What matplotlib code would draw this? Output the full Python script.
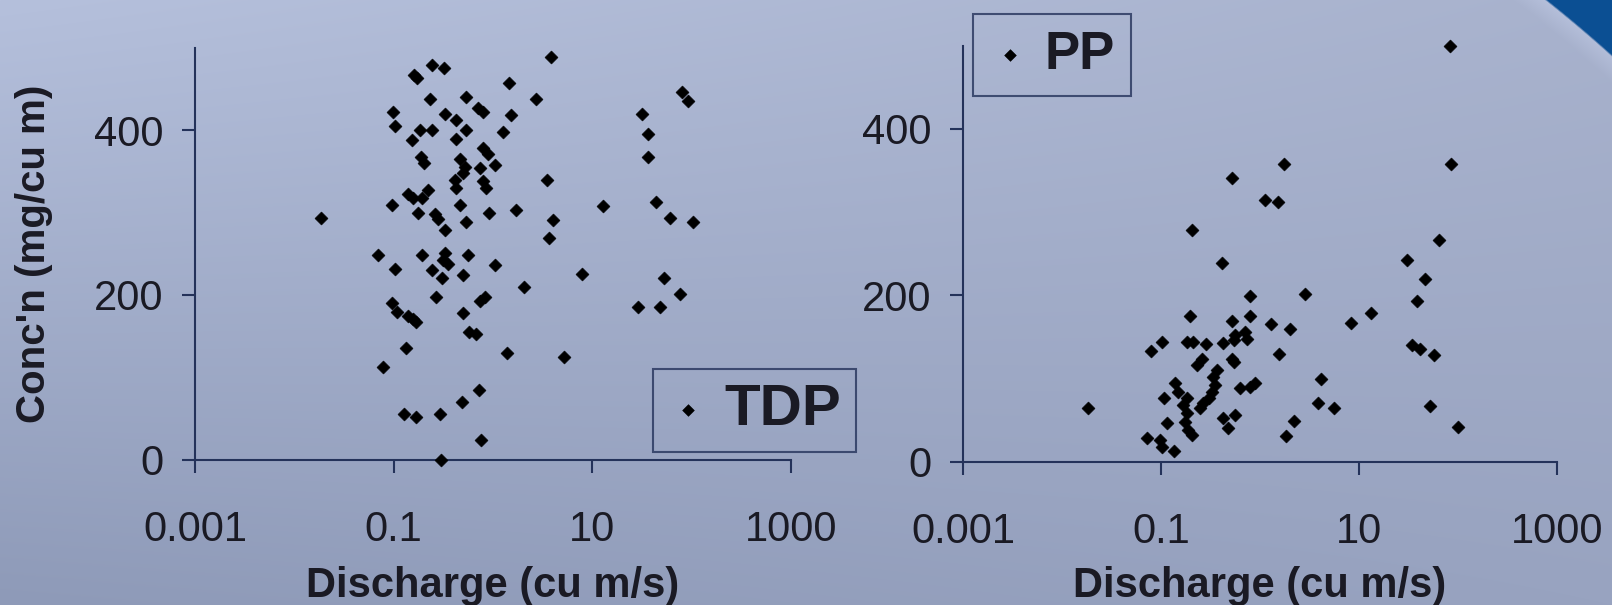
import numpy as np
import matplotlib
matplotlib.use('Agg')
import matplotlib.pyplot as plt
import matplotlib.ticker as ticker

plt.rcParams['font.family'] = ['Liberation Sans', 'DejaVu Sans']

#%% Data: discharge (cu m/s) against concentration (mg/cu m)

tdp_discharge = [3.83, 0.242, 0.321, 0.160, 0.170, 1.44, 0.233, 0.529, 2.71, 0.71,
                 0.79, 0.098, 1.53, 0.329, 0.42, 0.102, 0.185, 0.242, 0.541, 1.26,
                 0.153, 0.42, 0.79, 0.89, 0.189, 0.204, 0.46, 0.52, 0.50, 1.05,
                 0.74, 0.79, 0.86, 3.47, 0.41, 0.42, 0.141, 0.158, 0.192, 0.224,
                 0.096, 0.46, 1.69, 0.0185, 0.174, 0.26, 0.28, 0.905, 0.53, 4.04,
                 0.33, 3.69, 0.0697, 0.195, 0.33, 0.316, 0.355, 0.554, 0.104, 0.242,
                 0.304, 0.50, 1.05, 7.94, 2.03, 0.267, 0.735, 0.826, 0.096, 0.108,
                 0.141, 0.158, 0.167, 0.50, 0.571, 0.671, 0.133, 1.39, 5.21, 0.0776,
                 0.724, 0.483, 0.128, 0.167, 0.293, 0.764, 0.297,
                 12.8, 79.4, 92.6, 31.6, 36.3, 36.3, 43.6, 60.7, 104, 52.1,
                 76.4, 28.6, 47.5]
tdp_conc = [489, 479, 476, 467, 463, 458, 438, 441, 438, 427,
            422, 422, 419, 420, 412, 405, 400, 400, 400, 398,
            388, 389, 379, 371, 367, 360, 365, 355, 348, 358,
            354, 339, 330, 340, 340, 330, 322, 318, 318, 327,
            309, 309, 303, 293, 299, 298, 292, 299, 289, 291,
            279, 269, 249, 249, 251, 242, 238, 249, 232, 230,
            220, 224, 236, 226, 209, 197, 193, 197, 190, 179,
            174, 171, 167, 178, 155, 152, 135, 130, 125, 113,
            85, 70, 55, 52, 55, 24, 0,
            308, 447, 436, 420, 395, 368, 313, 293, 289, 220,
            201, 185, 185]

pp_discharge = [1.73, 0.519, 1.13, 1.51, 0.207, 0.411, 0.784, 2.82, 0.196, 0.519,
                0.784, 1.29, 1.99, 0.561, 0.708, 0.736, 0.1016, 0.0785, 0.182, 0.212,
                0.283, 0.427, 0.548, 1.57, 0.519, 0.54, 0.257, 0.229, 0.366, 0.339,
                0.352, 0.326, 0.302, 0.268, 0.248, 0.139, 0.150, 0.182, 0.168, 0.107,
                0.63, 0.79, 0.89, 0.182, 0.175, 0.189, 0.204, 0.116, 0.427, 0.56,
                0.48, 2.18, 1.84, 0.0184, 0.0728, 0.0977, 0.103, 0.136,
                82.6, 85.9, 64.7, 30.6, 46.2, 38.6, 13.3, 8.36, 34.4, 41.7,
                56.9, 4.16, 3.85, 5.55, 51.9, 99.5]
pp_conc = [358, 341, 315, 312, 278, 239, 199, 201, 175, 169,
           175, 165, 159, 152, 156, 148, 144, 133, 144, 144,
           141, 143, 146, 129, 124, 120, 124, 116, 110, 102,
           92, 84, 76, 70, 64, 94, 84, 76, 68, 77,
           88, 90, 94, 58, 48, 38, 32, 47, 52, 56,
           40, 49, 31, 64, 28, 26, 18, 13,
           500, 358, 267, 243, 220, 193, 179, 167, 140, 135,
           128, 100, 71, 64, 67, 42]

x_ticks = [0.001, 0.1, 10, 1000]
x_tick_labels = ['0.001', '0.1', '10', '1000']
y_ticks = [0, 200, 400]

NAVY = '#24325a'
TEXT = '#1a1a24'

#%% Figure and slide-style background

W, H = 1612, 605
fig = plt.figure(figsize=(W / 100, H / 100), dpi=100)

yy, xx = np.mgrid[0:H, 0:W].astype(float)
u = (xx / (W - 1))[..., None]
v = (yy / (H - 1))[..., None]
tl = np.array([181, 192, 220]) / 255.
tr = np.array([168, 178, 205]) / 255.
bl = np.array([142, 154, 184]) / 255.
br = np.array([152, 163, 192]) / 255.
img = (1 - u) * (1 - v) * tl + u * (1 - v) * tr + (1 - u) * v * bl + u * v * br

# dark blue band outside a large circle, only showing in the top right corner
d = np.hypot(xx - 700, yy - 1066) - 1361
halo = (np.clip(1 + d / 20, 0, 1) * (d < 0))[..., None]
img = img + halo * 0.05
dark = np.clip((d + 1) / 2, 0, 1)[..., None]
img = img * (1 - dark) + np.array([11, 79, 147]) / 255. * dark
img = np.clip(img, 0, 1)

bg = fig.add_axes([0, 0, 1, 1], zorder=-10)
bg.imshow(img, extent=[0, W, H, 0], aspect='auto', interpolation='bilinear')
bg.set_axis_off()


#%% Scatter panels

def make_panel(rect, discharge, conc, label_top):
    ax = fig.add_axes(rect)
    ax.patch.set_visible(False)
    ax.set_xscale('log')
    ax.set_xlim(1e-3, 1e3)
    ax.set_ylim(0, 500)
    for s in ['top', 'right']:
        ax.spines[s].set_visible(False)
    for s in ['left', 'bottom']:
        ax.spines[s].set_color(NAVY)
        ax.spines[s].set_linewidth(1.5)
    ax.set_xticks(x_ticks)
    ax.set_xticklabels(x_tick_labels)
    ax.xaxis.set_minor_locator(ticker.NullLocator())
    ax.set_yticks(y_ticks)
    ax.tick_params(axis='both', direction='out', length=9.5, width=1.5,
                   color=NAVY, labelsize=30, labelcolor=TEXT)
    ax.tick_params(axis='x', pad=27)
    ax.tick_params(axis='y', pad=13)
    sc = ax.scatter(discharge, conc, marker='D', s=44, c='black',
                    edgecolors='black', linewidths=0.4, clip_on=False, zorder=3)
    ax.set_xlabel('Discharge (cu m/s)', fontsize=30, fontweight='bold', color=TEXT)
    ax.xaxis.set_label_coords(0.5, label_top)
    return ax, sc


ax1, sc1 = make_panel([195 / W, (H - 459.5) / H, 596 / W, 411.5 / H],
                      tdp_discharge, tdp_conc, -0.259)
ax1.set_ylabel("Conc'n (mg/cu m)", fontsize=29, fontweight='bold', color=TEXT)
ax1.yaxis.set_label_coords(-0.238, 0.5)

ax2, sc2 = make_panel([963 / W, (H - 461.7) / H, 594 / W, 416 / H],
                      pp_discharge, pp_conc, -0.251)


def add_legend(ax, handle, text, size, anchor, loc, pad, hlen, textpad):
    leg = ax.legend([handle], [text], loc=loc, bbox_to_anchor=anchor,
                    bbox_transform=fig.transFigure, borderaxespad=0,
                    prop={'size': size, 'weight': 'bold'}, frameon=True,
                    fancybox=False, borderpad=pad, handlelength=hlen,
                    handletextpad=textpad, scatterpoints=1, markerscale=0.9)
    frame = leg.get_frame()
    frame.set_edgecolor(NAVY)
    frame.set_linewidth(1.5)
    frame.set_facecolor('none')
    for t in leg.get_texts():
        t.set_color(TEXT)
    return leg


add_legend(ax1, sc1, 'TDP', 42, (653 / W, (H - 452) / H), 'lower left', 0.25, 0.7, 0.28)
add_legend(ax2, sc2, 'PP', 38, (973 / W, (H - 14) / H), 'upper left', 0.3, 0.8, 0.26)

plt.savefig('out.png', dpi=100)
